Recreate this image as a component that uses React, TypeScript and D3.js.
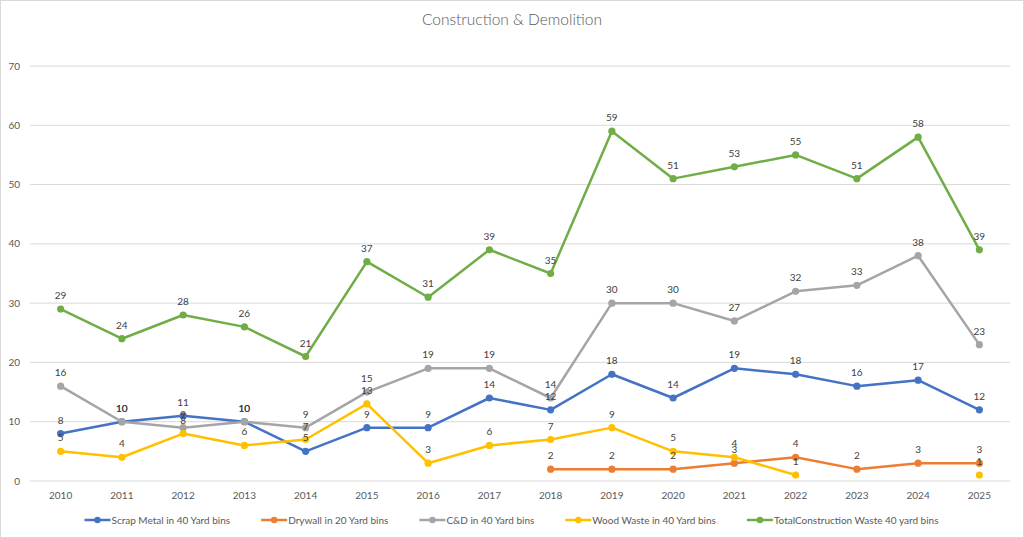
import React, { useEffect, useRef } from "react";
import * as d3 from "d3";

const years = ["2010","2011","2012","2013","2014","2015","2016","2017","2018","2019","2020","2021","2022","2023","2024","2025"];
const scrapMetal = [8, 10, 11, 10, 5, 9, 9, 14, 12, 18, 14, 19, 18, 16, 17, 12];
const drywall = [null, null, null, null, null, null, null, null, 2, 2, 2, 3, 4, 2, 3, 3];
const cnd = [16, 10, 9, 10, 9, 15, 19, 19, 14, 30, 30, 27, 32, 33, 38, 23];
const woodWaste = [5, 4, 8, 6, 7, 13, 3, 6, 7, 9, 5, 4, 1, null, null, 1];
const totalWaste = [29, 24, 28, 26, 21, 37, 31, 39, 35, 59, 51, 53, 55, 51, 58, 39];
const yTicks = [0, 10, 20, 30, 40, 50, 60, 70];

const series = [
  { name: "Scrap Metal in 40 Yard bins", values: scrapMetal, color: "#4472C4" },
  { name: "Drywall in 20 Yard bins", values: drywall, color: "#ED7D31" },
  { name: "C&D in 40 Yard bins", values: cnd, color: "#A5A5A5" },
  { name: "Wood Waste in 40 Yard bins", values: woodWaste, color: "#FFC000" },
  { name: "TotalConstruction Waste 40 yard bins", values: totalWaste, color: "#70AD47" },
];

const W = 1024;
const H = 538;
const FONT = "Lato, 'Open Sans', sans-serif";

export default function App() {
  const legendRef = useRef<SVGGElement>(null);

  const x = d3.scaleBand<string>().domain(years).range([30, 1010]);
  const y = d3.scaleLinear().domain([0, 70]).range([481, 66]);
  const cx = (yr: string) => (x(yr) as number) + x.bandwidth() / 2;

  const line = d3.line<number | null>()
    .defined((d) => d !== null)
    .x((_, i) => cx(years[i]))
    .y((d) => y(d as number));

  useEffect(() => {
    document.body.style.margin = "0";
    // lay out legend items centered, based on measured text widths
    const g = d3.select(legendRef.current);
    const items = g.selectAll<SVGGElement, unknown>("g.item").nodes();
    const widths = items.map((n) => {
      const t = n.querySelector("text") as SVGTextElement;
      return 30 + t.getComputedTextLength();
    });
    const gap = 28;
    const total = d3.sum(widths) + gap * (widths.length - 1);
    let pos = 513 - total / 2;
    items.forEach((n, i) => {
      d3.select(n).attr("transform", `translate(${pos},520)`);
      pos += widths[i] + gap;
    });
  }, []);

  return (
    <svg width={W} height={H} style={{ display: "block", fontFamily: FONT }}>
      <rect x={0.5} y={0.5} width={W - 1} height={H - 1} fill="white" stroke="#D9D9D9" />
      <text x={512} y={25} textAnchor="middle" fontSize={15.5} fontWeight={300} fill="#595959">
        Construction &amp; Demolition
      </text>

      {yTicks.map((t) => (
        <g key={t}>
          <line x1={30} x2={1010} y1={y(t)} y2={y(t)} stroke="#D9D9D9" strokeWidth={1} />
          <text x={20} y={y(t) + 3.5} textAnchor="end" fontSize={10} fill="#595959">{t}</text>
        </g>
      ))}

      {years.map((yr) => (
        <text key={yr} x={cx(yr)} y={499} textAnchor="middle" fontSize={10} fill="#595959">{yr}</text>
      ))}

      {series.map((s) => (
        <g key={s.name}>
          <path d={line(s.values) || ""} fill="none" stroke={s.color} strokeWidth={2.5} strokeLinejoin="round" />
          {s.values.map((v, i) =>
            v === null ? null : (
              <circle key={i} cx={cx(years[i])} cy={y(v)} r={3.6} fill={s.color} />
            )
          )}
        </g>
      ))}

      {series.map((s) => (
        <g key={s.name + "-labels"}>
          {s.values.map((v, i) =>
            v === null ? null : (
              <text key={i} x={cx(years[i])} y={y(v) - 10} textAnchor="middle" fontSize={10} fill="#404040">{v}</text>
            )
          )}
        </g>
      ))}

      <g ref={legendRef}>
        {series.map((s) => (
          <g className="item" key={s.name} transform="translate(0,520)">
            <line x1={0} x2={26} y1={0} y2={0} stroke={s.color} strokeWidth={2.5} />
            <circle cx={13} cy={0} r={3.2} fill={s.color} />
            <text x={27} y={3.5} fontSize={10} fill="#595959">{s.name}</text>
          </g>
        ))}
      </g>
    </svg>
  );
}
